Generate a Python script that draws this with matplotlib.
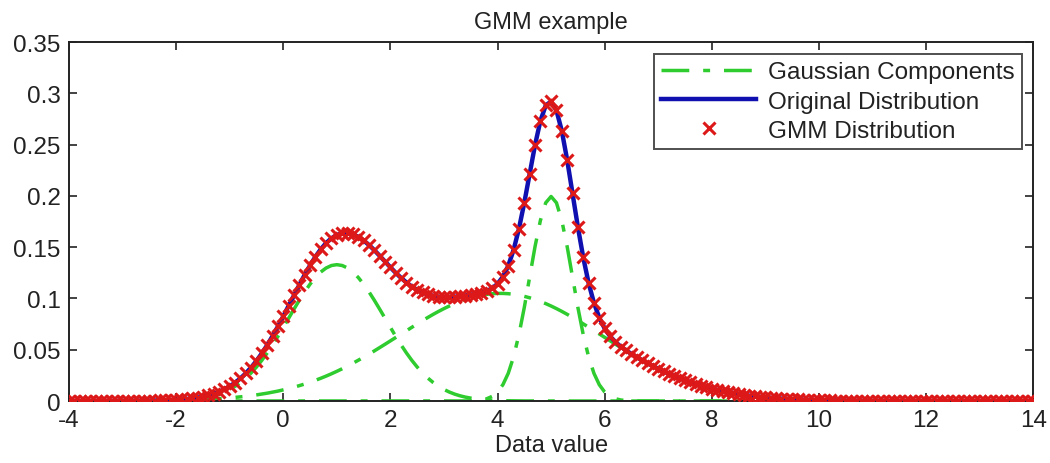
import numpy as np
import matplotlib
matplotlib.use("Agg")
import matplotlib.pyplot as plt

plt.rcParams['font.family'] = ['Liberation Sans', 'DejaVu Sans']
plt.rcParams['axes.unicode_minus'] = False

# Mixture parameters of the three Gaussian components
means = [1.0, 4.05, 5.0]
sigmas = [0.9, 1.9, 0.4]
weights = [0.3, 0.5, 0.2]

x_min, x_max, x_step = -4.0, 14.0, 0.1
x_ticks = [-4, -2, 0, 2, 4, 6, 8, 10, 12, 14]
y_ticks = [0, 0.05, 0.1, 0.15, 0.2, 0.25, 0.3, 0.35]
y_tick_labels = ['0', '0.05', '0.1', '0.15', '0.2', '0.25', '0.3', '0.35']

x = np.arange(x_min, x_max + x_step / 2, x_step)


def gauss(x, m, s):
    return np.exp(-0.5 * ((x - m) / s) ** 2) / (s * np.sqrt(2 * np.pi))


components = [w * gauss(x, m, s) for m, s, w in zip(means, sigmas, weights)]
mixture = np.sum(components, axis=0)

fig = plt.figure(figsize=(10.5, 4.64), dpi=100)
ax = fig.add_axes([0.0657, 0.1336, 0.9183, 0.7734])

green = '#2ecc2e'
for i, comp in enumerate(components):
    ax.plot(x, comp, color=green, lw=2.5, dashes=(8, 4, 2, 4),
            label='Gaussian Components' if i == 0 else None, zorder=2)
ax.plot(x, mixture, color='#1010b0', lw=3.2, label='Original Distribution', zorder=3)
ax.plot(x, mixture, ls='none', marker='x', color='#dc1818', ms=9, mew=2.2,
        label='GMM Distribution', zorder=4)

ax.set_xlim(x_min, x_max)
ax.set_ylim(0, 0.35)
ax.set_xticks(x_ticks)
ax.set_yticks(y_ticks)
ax.set_yticklabels(y_tick_labels)
ax.tick_params(direction='in', top=True, right=True, length=6, width=1.2,
               labelsize=17.5, colors='#222222', pad=6)
for sp in ax.spines.values():
    sp.set_linewidth(1.4)
    sp.set_color('#222222')

ax.set_title('GMM example', fontsize=17, color='#222222', pad=10)
ax.set_xlabel('Data value', fontsize=17, color='#222222', labelpad=2)

leg = ax.legend(loc='upper right', bbox_to_anchor=(0.9886, 0.967), fontsize=17.5,
                frameon=True, fancybox=False, edgecolor='#222222', borderpad=0.3,
                labelspacing=0.3, handlelength=3.9, handletextpad=0.5,
                borderaxespad=0.0)
leg.get_frame().set_linewidth(1.4)
for t in leg.get_texts():
    t.set_color('#222222')

fig.savefig('out.png', dpi=100)
